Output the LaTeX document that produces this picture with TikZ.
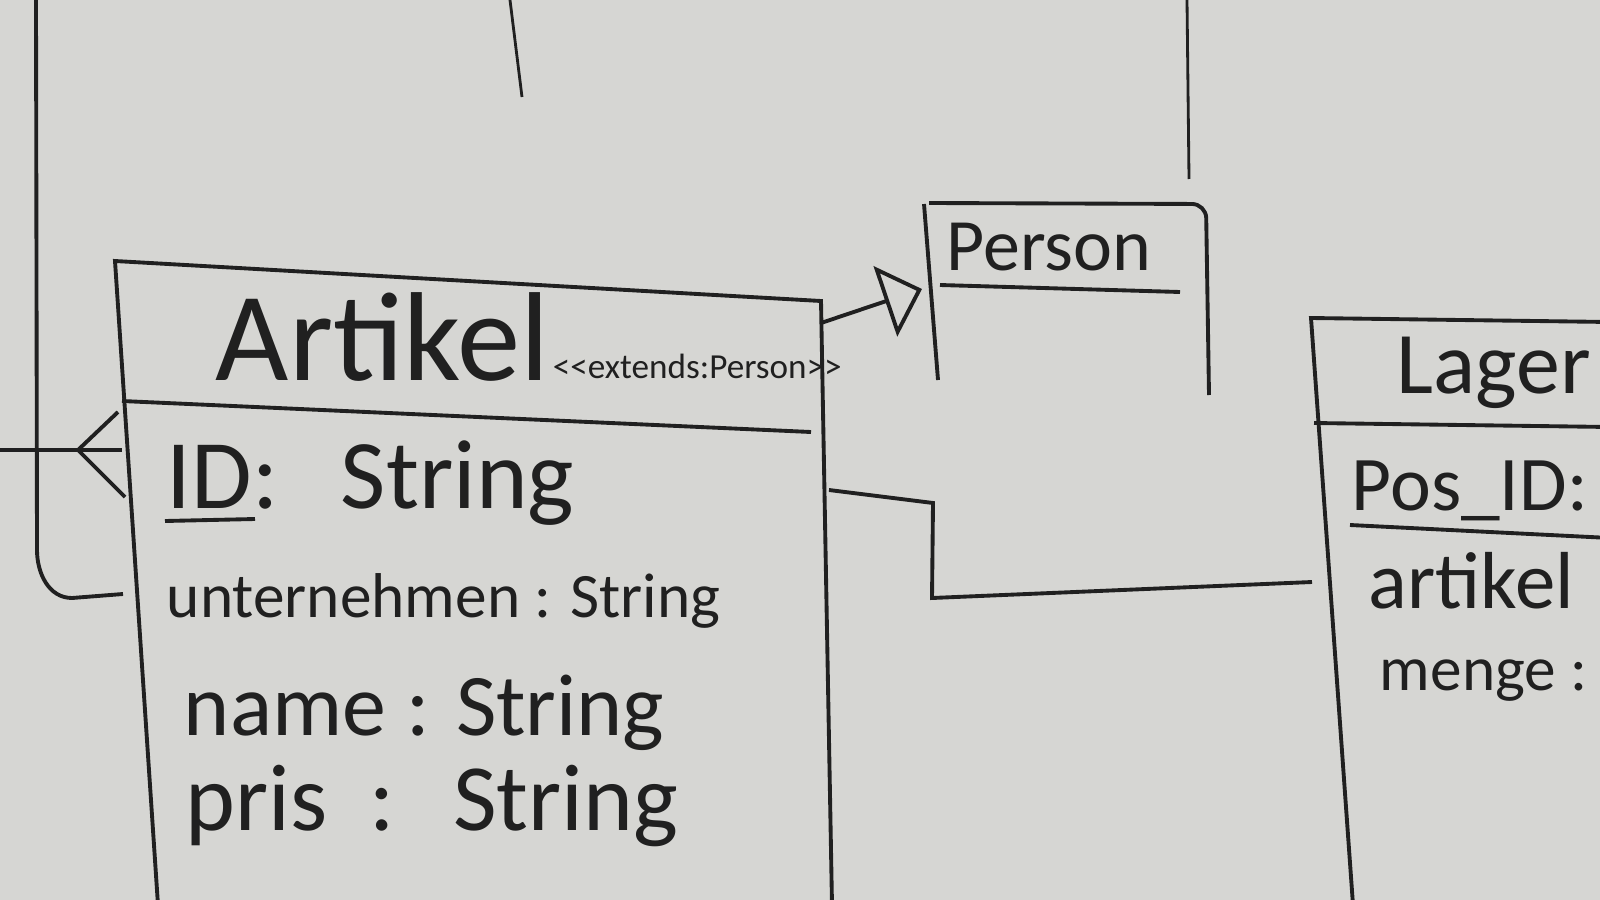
\documentclass[tikz,border=0pt]{standalone}
\usepackage{fontspec}
\setmainfont{Carlito}
\usepackage{tikz}
\usetikzlibrary{arrows.meta}
\definecolor{board}{RGB}{214,214,211}
\definecolor{ink}{RGB}{32,32,32}

\begin{document}
\begin{tikzpicture}[x=0.01cm, y=-0.01cm, color=ink, line width=1.1pt,
    attr/.style={anchor=base west, inner sep=0pt, font=\fontsize{#1}{#1}\selectfont},
    thinline/.style={line width=0.8pt}]

  \useasboundingbox (0,0) rectangle (1600,900);
  \fill[board] (0,0) rectangle (1600,900);

  % Artikel
  \coordinate (art-tl) at (115,261);
  \coordinate (art-tr) at (821,301);
  \coordinate (art-bl) at (158,905);
  \coordinate (art-br) at (832,905);
  \coordinate (art-hl) at (122,401);
  \coordinate (art-hr) at (811,432);
  \draw (art-bl) -- (art-tl) -- (art-tr) -- (art-br);
  \draw (art-hl) -- (art-hr);

  \node[attr=36] (art-name) at (214,380) {Artikel};
  \node[attr=10] (art-stereo) at (551,378) {<{}<extends:Person>{}>};
  \node[attr=28] (art-id) at (165,508) {ID:\hspace{0.4cm} String};
  \draw (165,521) -- (255,519);
  \node[attr=18] (art-firma) at (165,617) {unternehmen : String};
  \node[attr=25] (art-nm) at (182,735) {name : String};
  \node[attr=27] (art-preis) at (184,830) {pris\hspace{0.2cm} :\hspace{0.3cm} String};

  % Person
  \coordinate (per-tl) at (924,204);
  \coordinate (per-tr) at (1206,204);
  \coordinate (per-bl) at (938,380);
  \coordinate (per-br) at (1209,395);
  \draw (per-bl) -- (per-tl);
  \draw[rounded corners=4pt] (929,203) -- (per-tr) -- (per-br);
  \node[attr=21] (per-name) at (945,270) {Person};
  \draw (940,285) -- (1180,292);

  % Lager
  \coordinate (lag-tl) at (1311,318);
  \coordinate (lag-tr) at (1610,322);
  \coordinate (lag-bl) at (1353,905);
  \coordinate (lag-hl) at (1314,423);
  \coordinate (lag-hr) at (1610,427);
  \draw (lag-bl) -- (lag-tl) -- (lag-tr);
  \draw (lag-hl) -- (lag-hr);

  \node[attr=25] (lag-name) at (1395,393) {Lager};
  \node[attr=22] (lag-id) at (1350,510) {Pos\_ID:};
  \draw (1350,525) -- (1610,538);
  \node[attr=23] (lag-art) at (1367,608) {artikel};
  \node[attr=18] (lag-menge) at (1378,690) {menge :};

  % generalisation Artikel -> Person
  \coordinate (art-gen) at (821,323);
  \coordinate (per-gen) at (922,289);
  \draw[-{Triangle[open, length=11pt, width=21pt]}] (art-gen) -- (per-gen);

  % Artikel -- Lager
  \coordinate (art-lag) at (829,490);
  \coordinate (lag-link) at (1312,582);
  \draw (art-lag) -- (933,503) -- (932,598) -- (lag-link);

  % crow's foot into Artikel
  \coordinate (left-end) at (0,450);
  \coordinate (crow) at (78,450);
  \coordinate (art-crow) at (122,450);
  \draw (left-end) -- (art-crow);
  \draw (118,412) -- (crow) -- (125,497);

  % loop on the left
  \coordinate (loop-top) at (36,0);
  \coordinate (loop-end) at (123,594);
  \draw (loop-top) -- (37,550) to[out=-90, in=180] (72,598) -- (loop-end);

  % lines leaving at the top
  \coordinate (top-a) at (510,0);
  \coordinate (top-a-end) at (522,97);
  \coordinate (top-b) at (1187,0);
  \coordinate (top-b-end) at (1189,179);
  \draw[thinline] (top-a) -- (top-a-end);
  \draw[thinline] (top-b) -- (top-b-end);

\end{tikzpicture}
\end{document}
